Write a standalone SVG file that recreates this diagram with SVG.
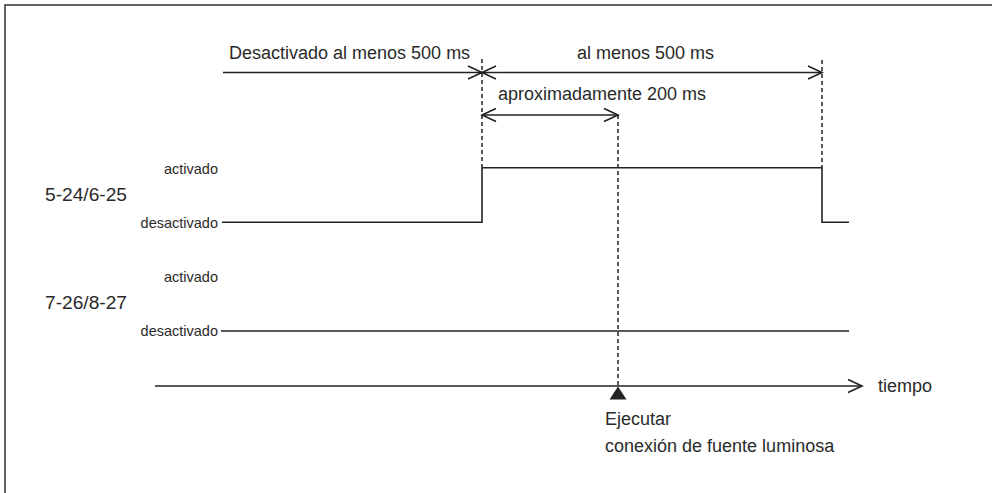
<svg xmlns="http://www.w3.org/2000/svg" width="992" height="493" viewBox="0 0 992 493">
  <style>
    .t { font-family: "Liberation Sans", Arial, sans-serif; font-size: 18px; fill: #2a2a2a; }
    .s { font-family: "Liberation Sans", Arial, sans-serif; font-size: 14.5px; fill: #2a2a2a; }
    .ln { fill: none; stroke: #222; stroke-width: 1.6; }
    .dash { fill: none; stroke: #222; stroke-width: 1.5; stroke-dasharray: 4 3; }
    .dim { fill: none; stroke: #222; stroke-width: 1.6; marker-end: url(#open); }
    .dim2 { fill: none; stroke: #222; stroke-width: 1.6; marker-start: url(#open); marker-end: url(#open); }
  </style>
  <defs>
    <marker id="open" markerUnits="userSpaceOnUse" markerWidth="16" markerHeight="16" viewBox="0 0 16 16" refX="14.5" refY="8" orient="auto-start-reverse" overflow="visible">
      <path d="M0.5,1.5 L14.5,8 L0.5,14.5" fill="none" stroke="#222" stroke-width="1.6"/>
    </marker>
  </defs>
  <rect width="992" height="493" fill="#fff"/>
  <path d="M5,493 V5 H992" fill="none" stroke="#333" stroke-width="1.5"/>

  <g id="guides">
    <line class="dash" x1="482" y1="59" x2="482" y2="167"/>
    <line class="dash" x1="822" y1="60" x2="822" y2="167"/>
    <line class="dash" x1="618" y1="115" x2="618" y2="386"/>
  </g>

  <g id="connectors">
    <line class="dim" x1="223" y1="72.5" x2="482" y2="72.5"/>
    <line class="dim2" x1="482" y1="72.5" x2="822" y2="72.5"/>
    <line class="dim2" x1="482" y1="115" x2="618" y2="115"/>
    <line class="dim" x1="155" y1="386" x2="862" y2="386"/>
  </g>

  <g id="signal-5-24">
    <text class="t" x="45" y="201" textLength="82" lengthAdjust="spacingAndGlyphs">5-24/6-25</text>
    <text class="s" x="218" y="174" text-anchor="end">activado</text>
    <text class="s" x="218" y="228" text-anchor="end">desactivado</text>
    <path class="ln" d="M222,222.3 H482 V167.7 H822 V222.3 H849"/>
  </g>

  <g id="signal-7-26">
    <text class="t" x="45" y="308.5" textLength="82" lengthAdjust="spacingAndGlyphs">7-26/8-27</text>
    <text class="s" x="218" y="281.5" text-anchor="end">activado</text>
    <text class="s" x="218" y="335.5" text-anchor="end">desactivado</text>
    <line class="ln" x1="221" y1="331" x2="849" y2="331"/>
  </g>

  <g id="labels">
    <text class="t" x="229" y="58.5">Desactivado al menos 500 ms</text>
    <text class="t" x="577" y="58.5">al menos 500 ms</text>
    <text class="t" x="498" y="100">aproximadamente 200 ms</text>
    <text class="t" x="878" y="392">tiempo</text>
  </g>

  <g id="trigger">
    <polygon points="618,386.5 609.5,399.5 626.5,399.5" fill="#222"/>
    <text class="t" x="605" y="425">Ejecutar</text>
    <text class="t" x="605" y="451.5">conexión de fuente luminosa</text>
  </g>
</svg>
